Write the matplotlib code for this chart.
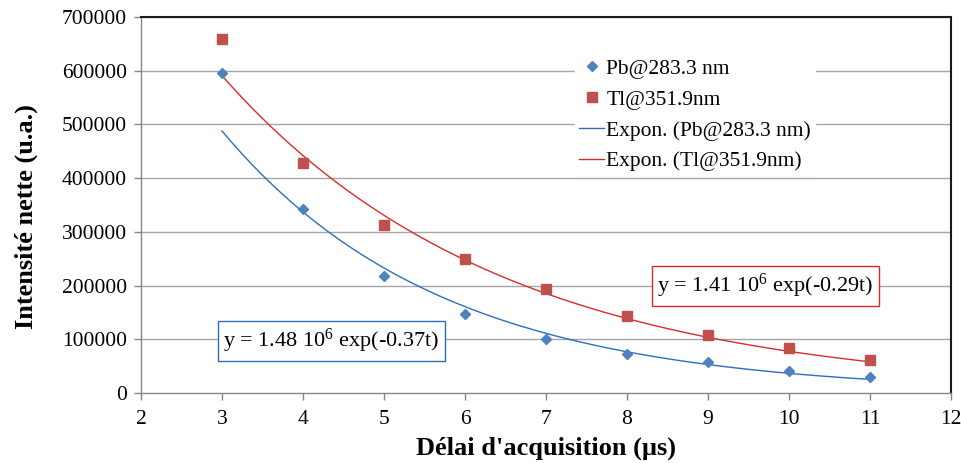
import numpy as np
import matplotlib.pyplot as plt

plt.rcParams['font.family'] = ['Liberation Serif', 'DejaVu Serif']
plt.rcParams['mathtext.fontset'] = 'custom'
plt.rcParams['mathtext.rm'] = 'Liberation Serif'
plt.rcParams['mathtext.it'] = 'Liberation Serif:italic'

# Acquisition delay (µs)
delay = [3, 4, 5, 6, 7, 8, 9, 10, 11]

# Net intensity (a.u.)
pb_intensity = [595000, 342000, 217000, 147000, 100000, 72000, 57000, 41000, 29000]
tl_intensity = [659000, 428000, 313000, 249000, 194000, 143000, 108000, 84000, 61000]

# Exponential trend lines as printed on the chart: y = A exp(-k t)
pb_fit = (1.48e6, 0.37)
tl_fit = (1.41e6, 0.29)

pb_color = '#4F81BD'
tl_color = '#C0504D'
pb_line = '#2F6EBA'
tl_line = '#D92B2B'

fig = plt.figure(figsize=(9.62, 4.63), dpi=100)
ax = fig.add_axes([0.1466, 0.1512, 0.842, 0.8121])

for y in range(100000, 700001, 100000):
    ax.axhline(y, color='#A6A6A6', lw=1.0, zorder=0)

t = np.linspace(3, 11, 200)
ax.plot(delay, pb_intensity, 'D', color=pb_color, ms=5.5, ls='none',
        label='Pb@283.3 nm', zorder=3)
ax.plot(delay, tl_intensity, 's', color=tl_color, ms=7, ls='none',
        label='Tl@351.9nm', zorder=3)
ax.plot(t, pb_fit[0] * np.exp(-pb_fit[1] * t), color=pb_line, lw=1.0,
        label='Expon. (Pb@283.3 nm)', zorder=2)
ax.plot(t, tl_fit[0] * np.exp(-tl_fit[1] * t), color=tl_line, lw=1.0,
        label='Expon. (Tl@351.9nm)', zorder=2)

ax.set_xlim(2, 12)
ax.set_ylim(0, 700000)
ax.set_xticks(range(2, 13))
ax.set_yticks(range(0, 700001, 100000))
ax.tick_params(axis='both', labelsize=15.5, color='#868686', length=5, width=1)
ax.tick_params(axis='x', pad=7)
ax.tick_params(axis='y', pad=5)

for s in ['left', 'bottom']:
    ax.spines[s].set_color('#868686')
    ax.spines[s].set_linewidth(1.0)
for s in ['top', 'right']:
    ax.spines[s].set_color('#1a1a1a')
    ax.spines[s].set_linewidth(1.5)

ax.set_xlabel("Délai d'acquisition (µs)", fontsize=19, fontweight='bold', labelpad=6)
ax.set_ylabel('Intensité nette (u.a.)', fontsize=19, fontweight='bold')
ax.yaxis.set_label_coords(-0.127, 0.468)

leg = ax.legend(loc='upper left', bbox_to_anchor=(0.536, 0.90), frameon=True,
                fontsize=15.5, labelspacing=0.5, handlelength=1.15,
                handletextpad=0.1, borderpad=0.2, borderaxespad=0, fancybox=False)
leg.get_frame().set_edgecolor('white')
leg.get_frame().set_facecolor('white')
leg.get_frame().set_alpha(1)

ax.text(4.35, 96800, r'y = 1.48 10$^{6}$ exp(-0.37t)', fontsize=16, ha='center', va='center',
        bbox=dict(boxstyle='square,pad=0.25', fc='white', ec=pb_line, lw=1.0), zorder=4)
ax.text(9.71, 199000, r'y = 1.41 10$^{6}$ exp(-0.29t)', fontsize=16, ha='center', va='center',
        bbox=dict(boxstyle='square,pad=0.25', fc='white', ec=tl_line, lw=1.0), zorder=4)

plt.savefig('out.png', dpi=100)
